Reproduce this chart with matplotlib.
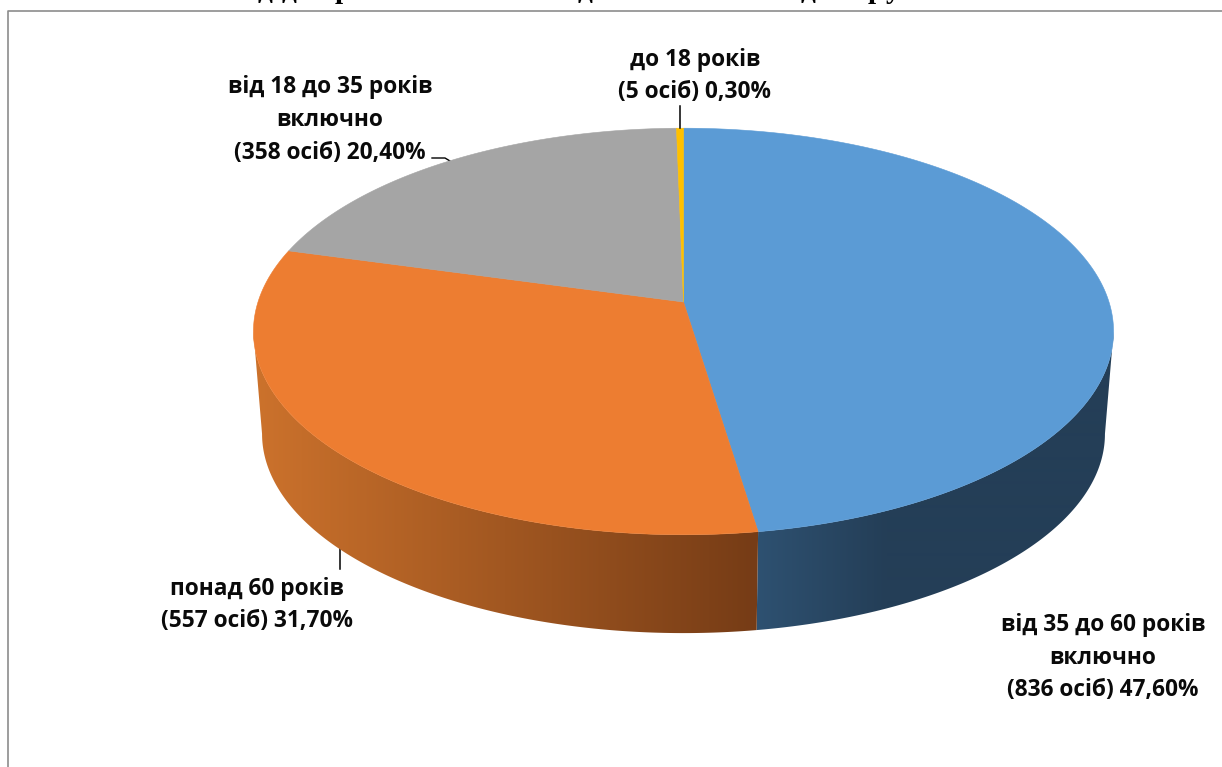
import numpy as np
import matplotlib
matplotlib.use('Agg')
import matplotlib.pyplot as plt
from matplotlib.patches import Polygon

# Дані діаграми
categories = ['від 35 до 60 років\nвключно', 'понад 60 років', 'від 18 до 35 років\nвключно', 'до 18 років']
persons = [836, 557, 358, 5]
percents = [47.6, 31.7, 20.4, 0.3]
percent_labels = ['47,60%', '31,70%', '20,40%', '0,30%']

top_colors = ['#5B9BD5', '#ED7D31', '#A5A5A5', '#FFC000']

# Позиції підписів у пікселях
label_pos = [(1103, 657.5), (257, 605), (330, 120), (695, 76)]

# Обрізані знизу літери заголовка вгорі сторінки
title_chars = ['д', 'д', 'р', 'д', 'д', 'р', 'у']
title_x = [265, 289, 343, 585, 808, 876, 893]

fig = plt.figure(figsize=(12.22, 7.67), dpi=100)
ax = fig.add_axes([0, 0, 1, 1])
ax.set_xlim(0, 1222)
ax.set_ylim(767, 0)
ax.axis('off')

# Перспектива: диск проектується з центром у (683.5, 302)
cx, cy = 683.5, 302
a, b, k = 425.5, 199, 0.145


def project(theta, scale=1.0, dy=0):
    u, v = np.sin(theta), np.cos(theta)
    d = 1 + k * v
    return cx + scale * a * u / d, cy + dy - scale * b * v / d


def side_gradient(slice_i, x):
    # Бічна стінка темнішає зліва направо
    if slice_i == 0:
        t = np.clip((x - 757) / 130, 0, 1)[:, None]
        return (np.array([46, 81, 113]) * (1 - t) + np.array([36, 62, 87]) * t) / 255
    t = np.clip((x - 255) / 500, 0, 1)[:, None]
    return (np.array([204, 114, 44]) * (1 - t) + np.array([118, 60, 22]) * t) / 255


shares = np.array(percents) / sum(percents)
edges = np.concatenate([[0], np.cumsum(shares)]) * 2 * np.pi

# Кути, де еліпс найширший: звідси починається видима стінка
tangent = np.arccos(-k)

# Бічна стінка: градієнт, обрізаний контуром сектора
x_grid = np.arange(0, 1222)
for i in range(2):
    th = np.linspace(max(edges[i], tangent), min(edges[i + 1], 2 * np.pi - tangent), 400)
    x_top, y_top = project(th)
    x_low, y_low = project(th[::-1], 0.98, 103)
    outline = Polygon(list(zip(x_top, y_top)) + list(zip(x_low, y_low)), fc='none', ec='none',
                      transform=ax.transData)
    ax.add_patch(outline)
    img = ax.imshow(side_gradient(i, x_grid)[None, :, :], extent=(0, 1222, 767, 0), aspect='auto',
                    interpolation='bilinear', zorder=1)
    img.set_clip_path(outline)
ax.set_xlim(0, 1222)
ax.set_ylim(767, 0)

# Верхня поверхня
for i, color in enumerate(top_colors):
    th = np.linspace(edges[i], edges[i + 1], 300)
    xs, ys = project(th)
    pts = [(cx, cy)] + list(zip(xs, ys))
    ax.add_patch(Polygon(pts, fc=color, ec=color, lw=0.4, zorder=2))

# Лінії виносок
ax.plot([680, 680], [106, 128], color='black', lw=1.1, zorder=3)
ax.plot([432, 445, 450], [158, 158, 161], color='black', lw=1.0, zorder=1.5)
ax.plot([340, 340], [543, 569], color='black', lw=1.1, zorder=0.5)

# Підписи
for cat, n, pct, (x, y) in zip(categories, persons, percent_labels, label_pos):
    label = f'{cat}\n({n} осіб) {pct}'
    ax.text(x, y, label, ha='center', va='center', multialignment='center',
            family=['Open Sans'], weight='bold', fontsize=16.3, linespacing=1.49, color='#0a0a0a', zorder=4)

# Рамка сторінки
ax.plot([7.5, 7.5, 1222], [767, 10.5, 10.5], color='#8c8c8c', lw=1.2, zorder=3)

# Заголовок, обрізаний краєм
for ch, x in zip(title_chars, title_x):
    ax.text(x, -2, ch, ha='center', va='baseline', family='Liberation Serif', weight='bold',
            fontsize=21, color='black', zorder=4)

fig.savefig('out.png', dpi=100)
